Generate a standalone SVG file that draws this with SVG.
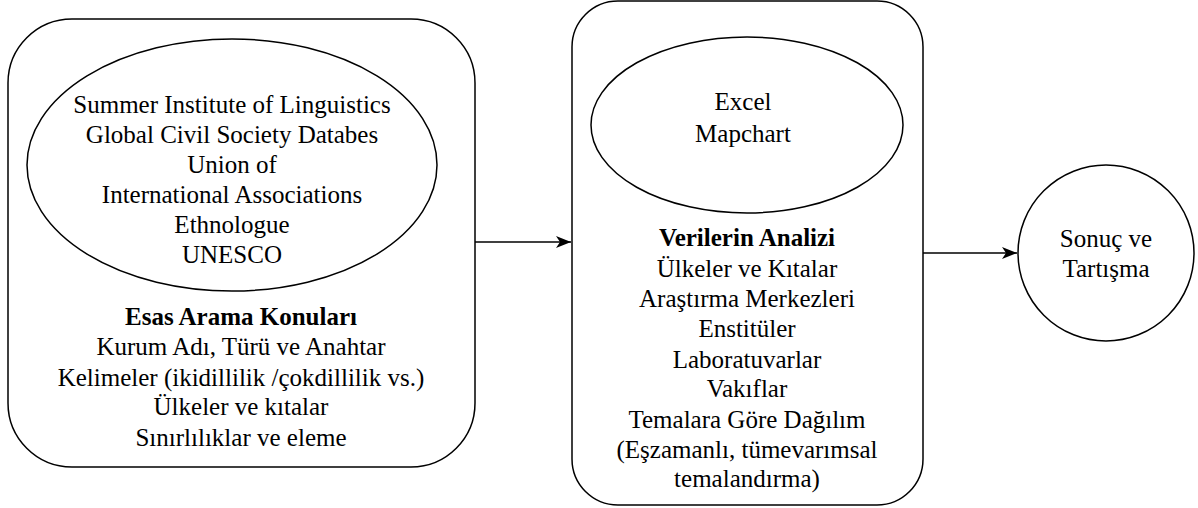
<svg xmlns="http://www.w3.org/2000/svg" width="1198" height="508" viewBox="0 0 1198 508">
<defs>
<marker id="ah" markerWidth="16" markerHeight="12" refX="15" refY="6" orient="auto" markerUnits="userSpaceOnUse">
<path d="M0,0 L15,6 L0,12 L4,6 Z" fill="#000"/>
</marker>
</defs>
<g id="connectors" stroke="#000" stroke-width="1.5" fill="none">
<path d="M475,242 L571,242" marker-end="url(#ah)"/>
<path d="M923,253 L1017,253" marker-end="url(#ah)"/>
</g>
<g id="node-search">
<rect x="8" y="19" width="467" height="448" rx="64" ry="64" fill="#fff" stroke="#000" stroke-width="1.5"/>
<ellipse cx="232" cy="165" rx="205" ry="126" fill="#fff" stroke="#000" stroke-width="1.5"/>
<text font-family="Liberation Serif" font-size="25" text-anchor="middle" x="232" y="113">Summer Institute of Linguistics</text>
<text font-family="Liberation Serif" font-size="25" text-anchor="middle" x="232" y="143">Global Civil Society Databes</text>
<text font-family="Liberation Serif" font-size="25" text-anchor="middle" x="232" y="173">Union of</text>
<text font-family="Liberation Serif" font-size="25" text-anchor="middle" x="232" y="203">International Associations</text>
<text font-family="Liberation Serif" font-size="25" text-anchor="middle" x="232" y="233">Ethnologue</text>
<text font-family="Liberation Serif" font-size="25" text-anchor="middle" x="232" y="263">UNESCO</text>
<text font-family="Liberation Serif" font-size="25" text-anchor="middle" font-weight="bold" x="241" y="325">Esas Arama Konuları</text>
<text font-family="Liberation Serif" font-size="25" text-anchor="middle" x="241" y="355">Kurum Adı, Türü ve Anahtar</text>
<text font-family="Liberation Serif" font-size="25" text-anchor="middle" x="241" y="386">Kelimeler (ikidillilik /çokdillilik vs.)</text>
<text font-family="Liberation Serif" font-size="25" text-anchor="middle" x="241" y="415">Ülkeler ve kıtalar</text>
<text font-family="Liberation Serif" font-size="25" text-anchor="middle" x="241" y="446">Sınırlılıklar ve eleme</text>
</g>
<g id="node-analysis">
<rect x="572" y="1" width="351" height="504" rx="46" ry="46" fill="#fff" stroke="#000" stroke-width="1.5"/>
<ellipse cx="747" cy="125" rx="156" ry="88" fill="#fff" stroke="#000" stroke-width="1.5"/>
<text font-family="Liberation Serif" font-size="25" text-anchor="middle" x="743" y="110">Excel</text>
<text font-family="Liberation Serif" font-size="25" text-anchor="middle" x="743" y="142">Mapchart</text>
<text font-family="Liberation Serif" font-size="25" text-anchor="middle" font-weight="bold" x="747" y="246">Verilerin Analizi</text>
<text font-family="Liberation Serif" font-size="25" text-anchor="middle" x="747" y="277">Ülkeler ve Kıtalar</text>
<text font-family="Liberation Serif" font-size="25" text-anchor="middle" x="747" y="307">Araştırma Merkezleri</text>
<text font-family="Liberation Serif" font-size="25" text-anchor="middle" x="747" y="337">Enstitüler</text>
<text font-family="Liberation Serif" font-size="25" text-anchor="middle" x="747" y="368">Laboratuvarlar</text>
<text font-family="Liberation Serif" font-size="25" text-anchor="middle" x="747" y="397">Vakıflar</text>
<text font-family="Liberation Serif" font-size="25" text-anchor="middle" x="747" y="428">Temalara Göre Dağılım</text>
<text font-family="Liberation Serif" font-size="25" text-anchor="middle" x="747" y="458">(Eşzamanlı, tümevarımsal</text>
<text font-family="Liberation Serif" font-size="25" text-anchor="middle" x="747" y="487">temalandırma)</text>
</g>
<g id="node-result">
<circle cx="1106" cy="253" r="88" fill="#fff" stroke="#000" stroke-width="1.5"/>
<text font-family="Liberation Serif" font-size="25" text-anchor="middle" x="1106" y="247">Sonuç ve</text>
<text font-family="Liberation Serif" font-size="25" text-anchor="middle" x="1106" y="277">Tartışma</text>
</g>
</svg>
